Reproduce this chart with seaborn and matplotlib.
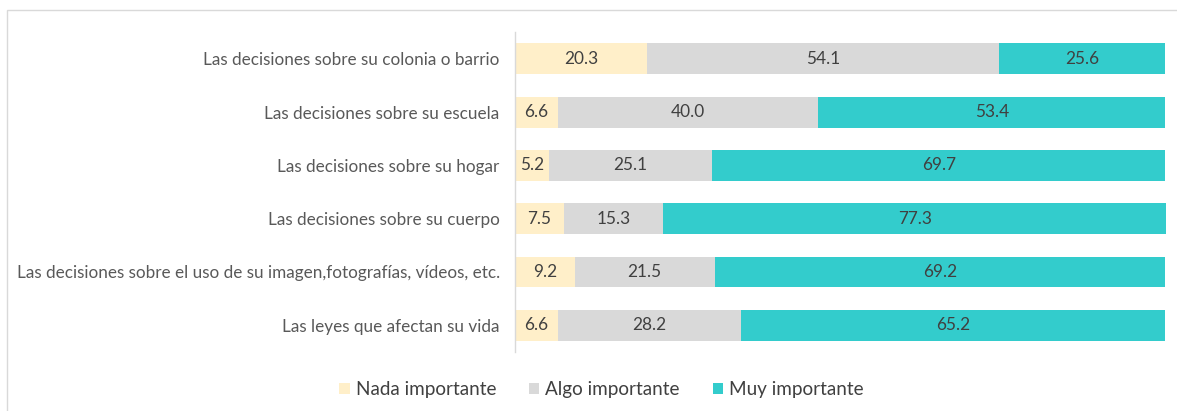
import matplotlib
matplotlib.use("Agg")
import matplotlib.pyplot as plt
import seaborn as sns
import pandas as pd
import numpy as np
from matplotlib.patches import Rectangle, Patch

categories = [
    "Las decisiones sobre su colonia o barrio",
    "Las decisiones sobre su escuela",
    "Las decisiones sobre su hogar",
    "Las decisiones sobre su cuerpo",
    "Las decisiones sobre el uso de su imagen,fotografías, vídeos, etc.",
    "Las leyes que afectan su vida",
]
nada = [20.3, 6.6, 5.2, 7.5, 9.2, 6.6]
algo = [54.1, 40.0, 25.1, 15.3, 21.5, 28.2]
muy = [25.6, 53.4, 69.7, 77.3, 69.2, 65.2]
series_names = ["Nada importante", "Algo importante", "Muy importante"]
colors = ["#FFEFC9", "#D9D9D9", "#33CCCC"]

sns.set_theme(style="white")
plt.rcParams["font.family"] = ["Lato", "DejaVu Sans"]

df = pd.DataFrame({"cat": categories, "nada": nada, "algo": algo, "muy": muy})
df["c1"] = df["nada"]
df["c2"] = df["nada"] + df["algo"]
df["c3"] = df["c2"] + df["muy"]

fig = plt.figure(figsize=(11.77, 4.11), dpi=100)
ax = fig.add_axes([0.4375, 0.1436, 0.9907 - 0.4375, 0.922 - 0.1436])

# stacked bars drawn as overlapping cumulative totals
for col, color in zip(["c3", "c2", "c1"], colors[::-1]):
    sns.barplot(data=df, x=col, y="cat", color=color, width=0.58,
                saturation=1, ax=ax, orient="h", edgecolor="none")

ax.set_xlim(0, df["c3"].max())
ax.set_xlabel("")
ax.set_ylabel("")
ax.set_xticks([])
for s in ["top", "right", "bottom"]:
    ax.spines[s].set_visible(False)
ax.spines["left"].set_color("#D9D9D9")
ax.spines["left"].set_linewidth(1.0)
ax.tick_params(axis="y", length=0, pad=11, labelsize=12.3, labelcolor="#595959")

# value labels centred in each segment
for i in range(len(categories)):
    starts = [0, df["c1"][i], df["c2"][i]]
    vals = [nada[i], algo[i], muy[i]]
    for s, v in zip(starts, vals):
        ax.text(s + v / 2, i, f"{v:.1f}", ha="center", va="center",
                fontsize=12.4, color="#404040")

handles = [Patch(facecolor=c, edgecolor="none") for c in colors]
fig.legend(handles, series_names, loc="center", bbox_to_anchor=(0.511, 0.052),
           ncol=3, frameon=False, fontsize=13.6, handlelength=0.55,
           handleheight=0.55, handletextpad=0.3, columnspacing=1.75,
           labelcolor="#404040")

fig.add_artist(Rectangle((7 / 1177, -0.1), 1.2, 1 - 10 / 411 + 0.1,
                         transform=fig.transFigure, fill=False,
                         edgecolor="#D9D9D9", linewidth=1.0))

fig.savefig("out.png", dpi=100)
